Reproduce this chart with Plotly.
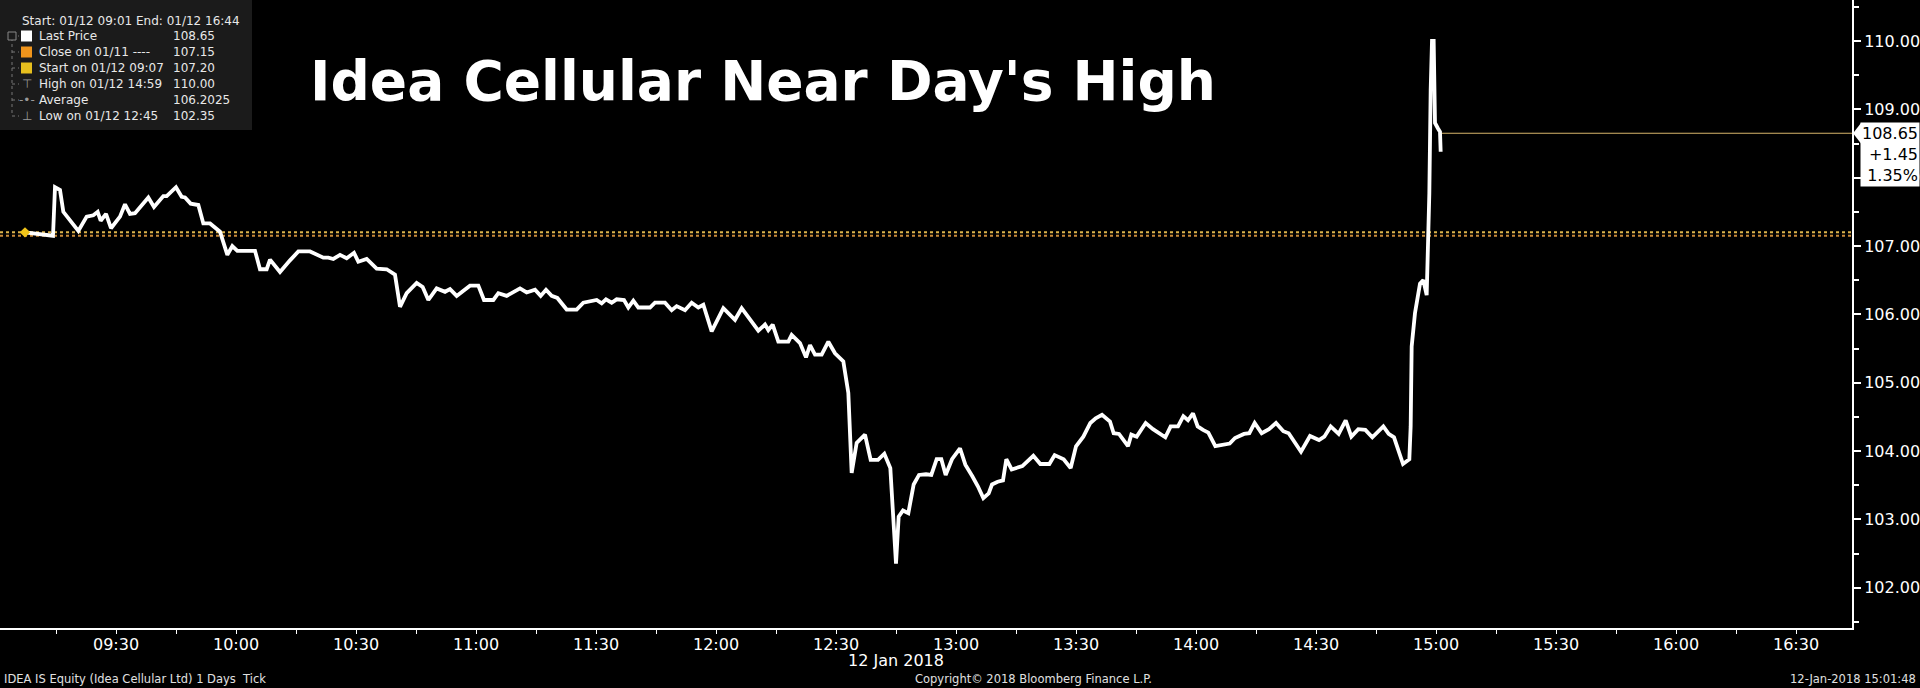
import plotly.graph_objects as go

day = "2018-01-12"

# intraday ticks (time, price)
times = [
    "09:07:15", "09:14:15", "09:14:45", "09:16:00", "09:16:50", "09:18:30", "09:20:35", "09:22:40",
    "09:24:20", "09:25:25", "09:26:10", "09:27:30", "09:28:45", "09:31:00", "09:32:15", "09:33:30",
    "09:34:45", "09:38:05", "09:39:30", "09:41:50", "09:42:40", "09:45:00", "09:46:25", "09:47:15",
    "09:48:40", "09:50:35", "09:51:50", "09:53:30", "09:56:00", "09:57:50", "09:59:05", "10:00:20",
    "10:04:45", "10:06:00", "10:07:40", "10:08:30", "10:11:00", "10:13:30", "10:15:35", "10:18:30",
    "10:21:50", "10:23:05", "10:24:20", "10:26:00", "10:27:40", "10:29:30", "10:30:35", "10:32:40",
    "10:35:10", "10:37:40", "10:39:45", "10:41:00", "10:42:40", "10:45:10", "10:46:40", "10:48:05",
    "10:50:10", "10:52:15", "10:53:30", "10:55:10", "10:58:30", "11:00:35", "11:02:00", "11:04:20",
    "11:05:35", "11:07:40", "11:11:00", "11:12:40", "11:14:45", "11:16:10", "11:17:30", "11:18:55",
    "11:20:20", "11:22:40", "11:25:10", "11:26:50", "11:29:20", "11:30:10", "11:31:25", "11:32:30",
    "11:33:55", "11:35:10", "11:37:00", "11:38:05", "11:39:20", "11:40:35", "11:43:30", "11:44:45",
    "11:47:15", "11:48:55", "11:50:10", "11:52:15", "11:53:55", "11:55:35", "11:56:50", "11:58:55",
    "12:01:50", "12:04:45", "12:06:25", "12:10:35", "12:12:15", "12:13:05", "12:14:10", "12:15:35",
    "12:18:05", "12:18:55", "12:21:00", "12:22:30", "12:23:30", "12:24:45", "12:26:25", "12:28:05",
    "12:29:45", "12:31:50", "12:33:05", "12:33:55", "12:35:10", "12:37:15", "12:38:40", "12:40:30",
    "12:42:05", "12:43:35", "12:45:00", "12:45:40", "12:46:45", "12:48:05", "12:49:25", "12:50:45",
    "12:52:30", "12:53:50", "12:55:10", "12:56:20", "12:57:25", "12:59:00", "13:01:00", "13:02:20",
    "13:04:05", "13:05:30", "13:06:50", "13:08:10", "13:09:00", "13:10:25", "13:11:45", "13:12:35",
    "13:13:55", "13:16:35", "13:19:20", "13:21:05", "13:23:20", "13:24:40", "13:26:55", "13:28:40",
    "13:30:00", "13:31:50", "13:33:35", "13:34:55", "13:36:30", "13:38:30", "13:39:25", "13:40:45",
    "13:43:00", "13:43:50", "13:45:10", "13:47:25", "13:49:15", "13:52:20", "13:53:40", "13:55:30",
    "13:56:50", "13:58:00", "13:59:15", "14:00:25", "14:01:45", "14:03:05", "14:04:50", "14:06:10",
    "14:08:25", "14:09:45", "14:12:00", "14:13:20", "14:14:40", "14:16:25", "14:18:15", "14:20:00",
    "14:21:50", "14:23:10", "14:26:15", "14:28:30", "14:30:45", "14:32:05", "14:33:40", "14:35:40",
    "14:37:25", "14:38:50", "14:40:35", "14:42:20", "14:44:05", "14:46:50", "14:48:10", "14:49:30",
    "14:51:45", "14:53:20", "14:53:40", "14:53:55", "14:54:45", "14:56:00", "14:56:50", "14:57:40",
    "14:58:05", "14:58:20", "14:58:40", "14:59:00", "14:59:25", "14:59:45", "15:00:30", "15:01:00",
    "15:01:10",
]
prices = [
    107.20, 107.15, 107.86, 107.82, 107.50, 107.38, 107.22, 107.43,
    107.45, 107.50, 107.37, 107.47, 107.26, 107.43, 107.61, 107.47,
    107.48, 107.71, 107.57, 107.73, 107.73, 107.86, 107.72, 107.71,
    107.62, 107.60, 107.33, 107.33, 107.21, 106.87, 107.00, 106.93,
    106.93, 106.66, 106.66, 106.80, 106.62, 106.79, 106.92, 106.92,
    106.83, 106.83, 106.81, 106.87, 106.82, 106.90, 106.77, 106.81,
    106.67, 106.66, 106.58, 106.11, 106.31, 106.46, 106.40, 106.21,
    106.38, 106.33, 106.37, 106.27, 106.42, 106.42, 106.21, 106.21,
    106.31, 106.27, 106.38, 106.32, 106.36, 106.27, 106.36, 106.27,
    106.24, 106.07, 106.07, 106.17, 106.19, 106.21, 106.16, 106.22,
    106.17, 106.22, 106.21, 106.10, 106.20, 106.10, 106.10, 106.17,
    106.17, 106.06, 106.12, 106.06, 106.17, 106.10, 106.14, 105.75,
    106.09, 105.92, 106.09, 105.76, 105.85, 105.77, 105.85, 105.60,
    105.60, 105.70, 105.58, 105.37, 105.55, 105.41, 105.41, 105.60,
    105.43, 105.31, 104.85, 103.68, 104.12, 104.24, 103.87, 103.87,
    103.96, 103.75, 102.35, 103.04, 103.13, 103.09, 103.51, 103.65,
    103.66, 103.65, 103.88, 103.88, 103.65, 103.88, 104.04, 103.80,
    103.63, 103.48, 103.31, 103.38, 103.51, 103.55, 103.57, 103.88,
    103.73, 103.78, 103.93, 103.81, 103.81, 103.94, 103.88, 103.75,
    104.07, 104.21, 104.41, 104.48, 104.53, 104.43, 104.26, 104.25,
    104.07, 104.24, 104.21, 104.41, 104.32, 104.20, 104.36, 104.36,
    104.51, 104.45, 104.55, 104.36, 104.31, 104.27, 104.07, 104.09,
    104.11, 104.19, 104.25, 104.26, 104.41, 104.26, 104.32, 104.41,
    104.29, 104.26, 103.99, 104.22, 104.16, 104.21, 104.36, 104.25,
    104.45, 104.21, 104.32, 104.31, 104.20, 104.36, 104.25, 104.20,
    103.81, 103.88, 104.36, 105.53, 106.02, 106.45, 106.50, 106.28,
    106.99, 107.77, 109.28, 110.00, 110.00, 108.80, 108.72, 108.67,
    108.38,
]

x_ticks = ["09:30", "10:00", "10:30", "11:00", "11:30", "12:00", "12:30", "13:00",
           "13:30", "14:00", "14:30", "15:00", "15:30", "16:00", "16:30"]
y_ticks = [102, 103, 104, 105, 106, 107, 108, 109, 110]

last_price = 108.65
net_change = "+1.45"
pct_change = "1.35%"
prev_close = 107.15
start_price = 107.20
start_time = "09:07:15"
last_time = "15:01:00"
session_start = "09:01"
session_end = "16:44"

legend_rows = [
    ("Last Price", "108.65"),
    ("Close on 01/11 ----", "107.15"),
    ("Start on 01/12 09:07", "107.20"),
    ("High on 01/12 14:59", "110.00"),
    ("Average", "106.2025"),
    ("Low on 01/12 12:45", "102.35"),
]
legend_swatches = ["#ffffff", "#f0951c", "#e6bf1e", None, None, None]
legend_icons = [None, None, None, "\u22a4", "-\u2022-", "\u22a5"]

W, H = 1920, 688
PW, PH = 1852, 628
FONT = "DejaVu Sans"
GOLD = "#dcb44c"
ORANGE = "#c98a3a"


def px(x):
    return x / PW


def py(y):
    return 1 - y / PH


def ts(t):
    return day + " " + t


fig = go.Figure()

x_start = ts(session_start + ":00")
x_end = ts(session_end + ":00")

# previous close and start level (dotted)
fig.add_trace(go.Scatter(x=[x_start, x_end], y=[start_price, start_price], mode="lines",
                         line=dict(color=GOLD, width=2, dash="dot"), hoverinfo="skip"))
fig.add_trace(go.Scatter(x=[x_start, x_end], y=[prev_close, prev_close], mode="lines",
                         line=dict(color=ORANGE, width=2, dash="dot"), hoverinfo="skip"))
# last price level
fig.add_trace(go.Scatter(x=[ts(last_time), x_end], y=[last_price, last_price], mode="lines",
                         line=dict(color="#d6b46a", width=1.2), hoverinfo="skip"))

fig.add_trace(go.Scatter(x=[ts(t) for t in times], y=prices, mode="lines",
                         line=dict(color="white", width=3.8), name="Last Price"))

fig.add_trace(go.Scatter(x=[ts(start_time)], y=[start_price], mode="markers",
                         marker=dict(color="#f0c419", size=8, symbol="diamond"), hoverinfo="skip"))

ann = []
shapes = []

# title
ann.append(dict(x=px(308), y=py(81), xref="paper", yref="paper", xanchor="left", yanchor="middle",
                text="<b>Idea Cellular Near Day's High</b>", showarrow=False,
                font=dict(family=FONT, size=55, color="white")))

# legend panel
shapes.append(dict(type="rect", xref="paper", yref="paper", x0=0, x1=px(252), y0=py(130), y1=1,
                   fillcolor="#1b1b1b", line=dict(width=0), layer="below"))
ann.append(dict(x=px(20), y=py(21), xref="paper", yref="paper", xanchor="left", yanchor="middle",
                text="Start: 01/12 09:01 End: 01/12 16:44", showarrow=False,
                font=dict(family=FONT, size=12, color="#e8e8e8")))
row_y = [36, 52, 68, 84, 100, 116]
shapes.append(dict(type="line", xref="paper", yref="paper", x0=px(12), x1=px(12),
                   y0=py(32), y1=py(116), line=dict(color="#777777", width=1, dash="dot")))
for (label, val), col, icon, ry in zip(legend_rows, legend_swatches, legend_icons, row_y):
    shapes.append(dict(type="line", xref="paper", yref="paper", x0=px(12), x1=px(19),
                       y0=py(ry), y1=py(ry), line=dict(color="#777777", width=1, dash="dot")))
    if col:
        shapes.append(dict(type="rect", xref="paper", yref="paper", x0=px(21), x1=px(32),
                           y0=py(ry + 5.5), y1=py(ry - 5.5), fillcolor=col, line=dict(width=0)))
    if icon:
        ann.append(dict(x=px(26.5), y=py(ry), xref="paper", yref="paper", xanchor="center",
                        yanchor="middle", text=icon, showarrow=False,
                        font=dict(family=FONT, size=12, color="#9a9a9a")))
    ann.append(dict(x=px(37), y=py(ry), xref="paper", yref="paper", xanchor="left", yanchor="middle",
                    text=label, showarrow=False, font=dict(family=FONT, size=12, color="#e8e8e8")))
    ann.append(dict(x=px(171), y=py(ry), xref="paper", yref="paper", xanchor="left", yanchor="middle",
                    text=val, showarrow=False, font=dict(family=FONT, size=12, color="#e8e8e8")))
shapes.append(dict(type="rect", xref="paper", yref="paper", x0=px(8), x1=px(16),
                   y0=py(40), y1=py(32), fillcolor="#1b1b1b", line=dict(color="#888888", width=1)))

# last price tag on the axis
ann.append(dict(x=1, y=last_price, xref="paper", yref="y", xanchor="left", yanchor="top",
                xshift=8, yshift=11, showarrow=False, align="right",
                text=f"{last_price:.2f}<br>{net_change}<br>{pct_change}",
                bgcolor="white", borderpad=1, font=dict(family=FONT, size=16, color="black")))
shapes.append(dict(type="path", xref="paper", yref="y",
                   path=f"M {px(PW + 1)},{last_price} L {px(PW + 9)},{last_price + 0.15} "
                        f"L {px(PW + 9)},{last_price - 0.15} Z",
                   fillcolor="white", line=dict(width=0)))

# footer
ann.append(dict(x=px(896), y=py(660), xref="paper", yref="paper", xanchor="center", yanchor="middle",
                text="12 Jan 2018", showarrow=False, font=dict(family=FONT, size=16, color="white")))
ann.append(dict(x=px(2), y=py(679), xref="paper", yref="paper", xanchor="left", yanchor="middle",
                text="IDEA IS Equity (Idea Cellular Ltd) 1 Days  Tick", showarrow=False,
                font=dict(family=FONT, size=11.5, color="#e0e0e0")))
ann.append(dict(x=px(1033), y=py(679), xref="paper", yref="paper", xanchor="center", yanchor="middle",
                text="Copyright\u00a9 2018 Bloomberg Finance L.P.", showarrow=False,
                font=dict(family=FONT, size=11.5, color="#e0e0e0")))
ann.append(dict(x=px(1918), y=py(679), xref="paper", yref="paper", xanchor="right", yanchor="middle",
                text="12-Jan-2018 15:01:48", showarrow=False,
                font=dict(family=FONT, size=11.5, color="#e0e0e0")))

fig.update_layout(
    width=W, height=H,
    paper_bgcolor="black", plot_bgcolor="black",
    margin=dict(l=0, r=W - PW, t=0, b=H - PH),
    showlegend=False,
    annotations=ann, shapes=shapes,
    font=dict(family=FONT, color="white"),
)
fig.update_xaxes(
    type="date", range=[x_start, x_end],
    tickvals=[ts(t + ":00") for t in x_ticks], ticktext=x_ticks,
    ticks="outside", ticklen=4, tickcolor="white", ticklabelstandoff=-3,
    minor=dict(dtick=15 * 60 * 1000, tick0=ts("09:00:00"), ticks="outside", ticklen=4, tickcolor="white"),
    showline=True, linecolor="white", linewidth=2, showgrid=False, zeroline=False,
    tickfont=dict(family=FONT, size=16, color="white"),
)
fig.update_yaxes(
    side="right", range=[101.41, 110.6],
    tickvals=y_ticks, ticktext=[f"{v:.2f}" for v in y_ticks],
    ticks="outside", ticklen=7, tickwidth=2, tickcolor="white",
    minor=dict(dtick=0.5, tick0=0, ticks="outside", ticklen=5, tickcolor="white"),
    showline=True, linecolor="white", linewidth=2, showgrid=False, zeroline=False,
    tickfont=dict(family=FONT, size=16, color="white"),
)

# page body has a default 8px margin; drop it so the chart fills the window exactly
fig.write_html("out.html", config={"displayModeBar": False},
               post_script="document.body.style.margin='0';")
